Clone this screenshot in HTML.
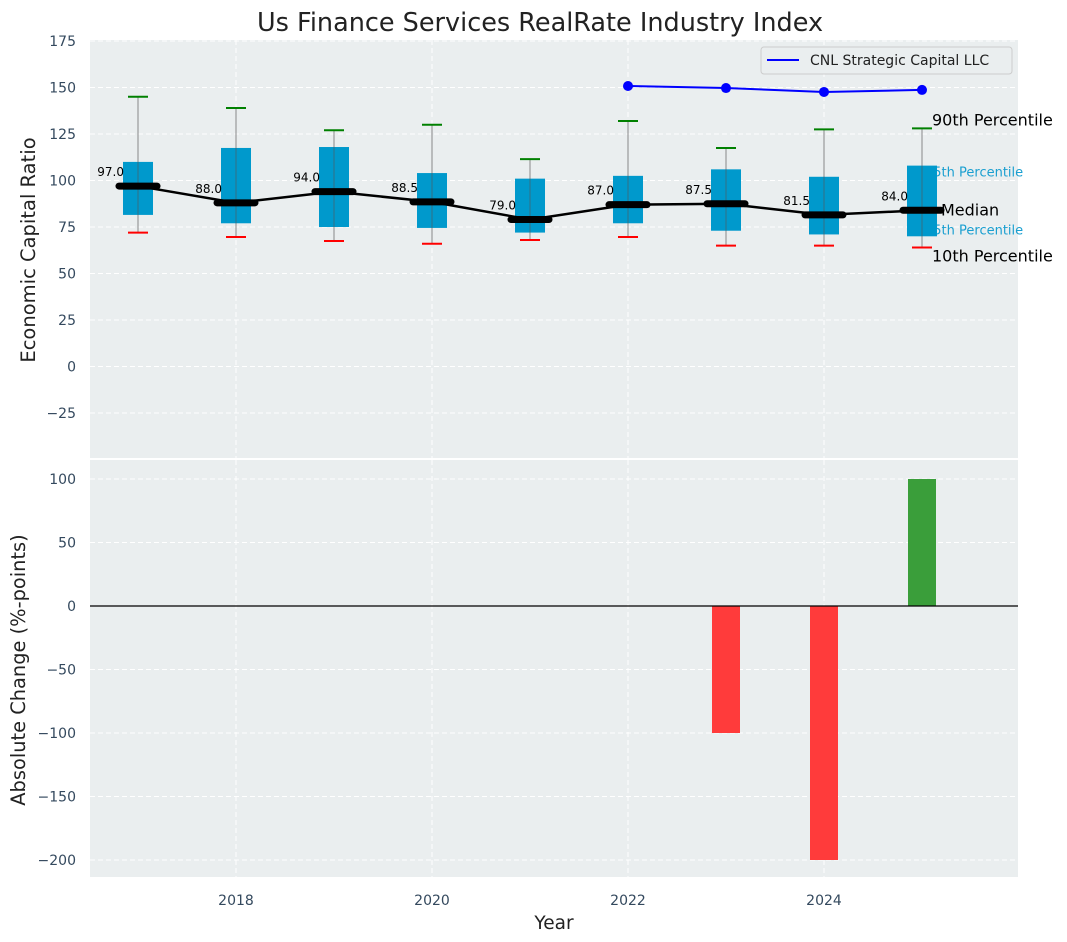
<!DOCTYPE html>
<html><head><meta charset="utf-8"><style>
body{margin:0;background:#fff;}
svg{display:block;font-family:"DejaVu Sans","Liberation Sans",sans-serif;}
</style></head><body>
<svg id="chart" width="1067" height="942" viewBox="0 0 1067 942">
<text x="540" y="31" text-anchor="middle" font-size="25.5" fill="#222">Us Finance Services RealRate Industry Index</text>
<rect x="90" y="40" width="928" height="418" fill="#eaeeef"/>
<rect x="90" y="460" width="928" height="417" fill="#eaeeef"/>
<g id="grid"></g>
<g id="marks"></g>
<text transform="translate(35,250) rotate(-90)" text-anchor="middle" font-size="19.5" fill="#222">Economic Capital Ratio</text>
<text transform="translate(25,670) rotate(-90)" text-anchor="middle" font-size="19.4" fill="#222">Absolute Change (%-points)</text>
<text x="554" y="929" text-anchor="middle" font-size="18.5" fill="#222">Year</text>
<g>
<rect x="761" y="47" width="251" height="27" rx="3" fill="#eaeeef" stroke="#ccc"/>
<line x1="767" y1="60" x2="799" y2="60" stroke="#0000ff" stroke-width="2"/>
<text x="810" y="65" font-size="14" fill="#222">CNL Strategic Capital LLC</text>
</g>
</svg>
<script>
const years=[2017,2018,2019,2020,2021,2022,2023,2024,2025];
const medians=[97.0,88.0,94.0,88.5,79.0,87.0,87.5,81.5,84.0];
const q75=[110,117.5,118,104,101,102.5,106,102,108];
const q25=[81.5,77,75,74.5,72,77,73,71,70];
const p90=[145,139,127,130,111.5,132,117.5,127.5,128];
const p10=[72,69.6,67.5,66,68,69.6,65,65,64];
const cnlYears=[2022,2023,2024,2025];
const cnlValues=[150.8,149.7,147.6,148.7];
const changeYears=[2023,2024,2025];
const changeValues=[-100,-200,100];
const topTicks=[175,150,125,100,75,50,25,0,-25];
const bottomTicks=[100,50,0,-50,-100,-150,-200];
const xTicks=[2018,2020,2022,2024];

const X=y=>138+(y-2017)*98;
const Y1=v=>366.5-v*1.86;
const Y2=v=>606-v*1.27;
const NS='http://www.w3.org/2000/svg';
function mk(parent,tag,attrs,text){const e=document.createElementNS(NS,tag);for(const k in attrs)e.setAttribute(k,attrs[k]);if(text!==undefined)e.textContent=text;parent.appendChild(e);return e;}
const grid=document.getElementById('grid'),marks=document.getElementById('marks');
topTicks.forEach(t=>{const y=Y1(t);
 const l=mk(grid,'line',{x1:90,x2:1018,y1:y,y2:y,stroke:'#fff','stroke-dasharray':'5,3','stroke-width':1});
 
 
 const tx=mk(grid,'text',{x:76,y:y+5,'text-anchor':'end','font-size':14,fill:'#34495e'},t===0?'0':(t<0?'−'+(-t):t));
 
 });
bottomTicks.forEach(t=>{const y=Y2(t);
 const l=mk(grid,'line',{x1:90,x2:1018,y1:y,y2:y,stroke:'#fff','stroke-dasharray':'5,3','stroke-width':1});
 
 
 const tx=mk(grid,'text',{x:76,y:y+5,'text-anchor':'end','font-size':14,fill:'#34495e'},t===0?'0':(t<0?'−'+(-t):t));
 
 });
xTicks.forEach(t=>{const x=X(t);
 [[40,458],[460,877]].forEach(r=>{const l=mk(grid,'line',{x1:x,x2:x,y1:r[0],y2:r[1],stroke:'#fff','stroke-dasharray':'5,3'});
 
 });
 const tx=mk(grid,'text',{x:x,y:905,'text-anchor':'middle','font-size':14,fill:'#34495e'},t);
 
 });

const last=years.length-1;
[['90th Percentile',p90[last],932,'#000',16,-3],['75th Percentile',q75[last],925,'#1a9fd0',13,11],['Median',medians[last],941,'#000',16,5],['25th Percentile',q25[last],925,'#1a9fd0',13,-2],['10th Percentile',p10[last],932,'#000',16,14]].forEach(a=>{
 const t=mk(marks,'text',{x:a[2],y:Y1(a[1])+a[5],'font-size':a[4],fill:a[3]},a[0]);
 
 });

years.forEach((yr,i)=>{const x=X(yr);
 const w=mk(marks,'line',{x1:x,x2:x,y1:Y1(p90[i]),y2:Y1(p10[i]),stroke:'#888','stroke-width':1});
 
 
 const b=mk(marks,'rect',{x:x-15,y:Y1(q75[i]),width:30,height:Y1(q25[i])-Y1(q75[i]),fill:'#0099cc'});
 
 
 const w2=mk(marks,'line',{x1:x,x2:x,y1:Y1(q75[i]),y2:Y1(q25[i]),stroke:'#555','stroke-width':1,'stroke-opacity':0.6});
 
 
 const c1=mk(marks,'line',{x1:x-10,x2:x+10,y1:Y1(p90[i]),y2:Y1(p90[i]),stroke:'#008000','stroke-width':2});
 
 
 const c2=mk(marks,'line',{x1:x-10,x2:x+10,y1:Y1(p10[i]),y2:Y1(p10[i]),stroke:'#ff0000','stroke-width':2});
 
 
});
const mp=mk(marks,'polyline',{points:years.map((y,i)=>X(y)+','+Y1(medians[i])).join(' '),fill:'none',stroke:'#000','stroke-width':2.5});


years.forEach((yr,i)=>{const x=X(yr),y=Y1(medians[i]);
 const m=mk(marks,'line',{x1:x-19,x2:x+19,y1:y,y2:y,stroke:'#000','stroke-width':7,'stroke-linecap':'round'});
 
 
 const t=mk(marks,'text',{x:x-14,y:y-10,'text-anchor':'end','font-size':12,fill:'#000'},medians[i].toFixed(1));
 
 });
const cl=mk(marks,'polyline',{points:cnlYears.map((y,i)=>X(y)+','+Y1(cnlValues[i])).join(' '),fill:'none',stroke:'#0000ff','stroke-width':2});


cnlYears.forEach((yr,i)=>{const p=mk(marks,'circle',{cx:X(yr),cy:Y1(cnlValues[i]),r:5,fill:'#0000ff'});
 
 });
changeYears.forEach((yr,i)=>{const v=changeValues[i],x=X(yr);
 const r=mk(marks,'rect',{x:x-14,y:Math.min(Y2(0),Y2(v)),width:28,height:Math.abs(Y2(v)-Y2(0)),fill:v>=0?'#3a9e3a':'#ff3b3b'});
 
 });
const z=mk(marks,'line',{x1:90,x2:1018,y1:Y2(0),y2:Y2(0),stroke:'#000','stroke-width':1.2});


</script>
</body></html>
